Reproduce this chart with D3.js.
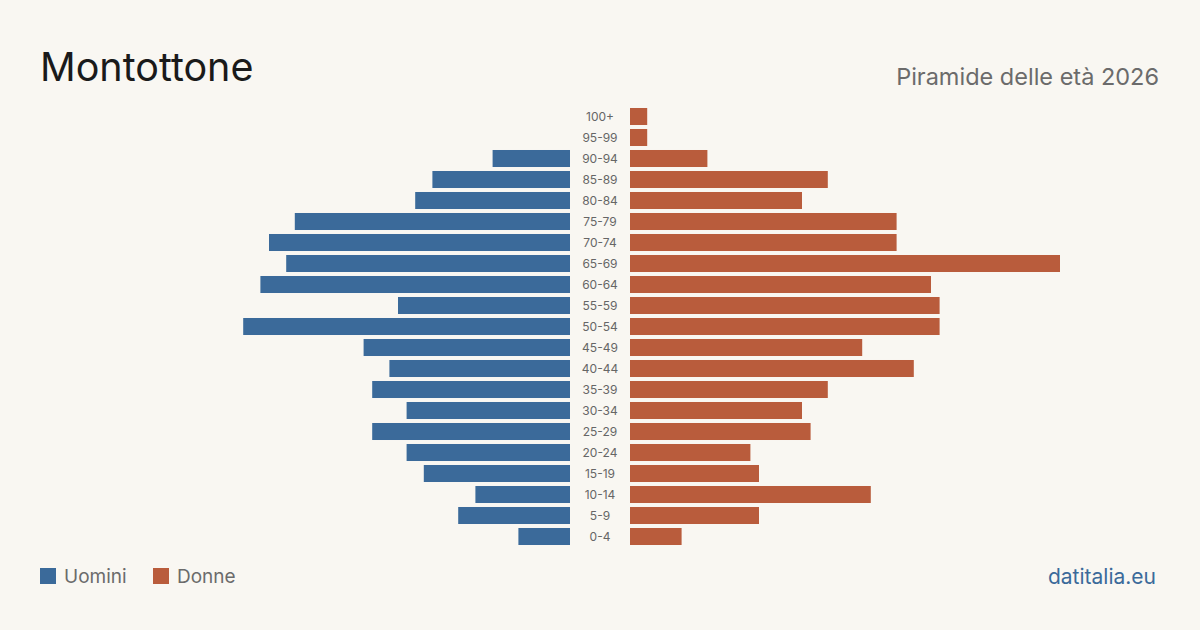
<!DOCTYPE html>
<html>
<head>
<meta charset="utf-8">
<script src="https://cdn.jsdelivr.net/npm/d3@7"></script>
<style>
  body { margin: 0; background: #f9f7f2; }
  svg { display: block; font-family: Inter, "Noto Sans", sans-serif; }
</style>
</head>
<body>
<div class="chart"></div>
<script>
const ageGroups = ["100+", "95-99", "90-94", "85-89", "80-84", "75-79", "70-74", "65-69", "60-64", "55-59",
    "50-54", "45-49", "40-44", "35-39", "30-34", "25-29", "20-24", "15-19", "10-14", "5-9", "0-4"]
const men = [0, 0, 9, 16, 18, 32, 35, 33, 36, 20, 38, 24, 21, 23, 19, 23, 19, 17, 11, 13, 6]
const women = [2, 2, 9, 23, 20, 31, 31, 50, 35, 36, 36, 27, 33, 23, 20, 21, 14, 15, 28, 15, 6]
const legendLabels = ["Uomini", "Donne"]

const width = 1200
const height = 630
const colors = { Uomini: "#3b6a9a", Donne: "#b95c3c" }

const svg = d3.select(".chart")
    .append("svg")
    .attr("width", width)
    .attr("height", height)

svg.append("rect").attr("width", width).attr("height", height).attr("fill", "#f9f7f2")

svg.append("text")
    .attr("x", 40).attr("y", 81)
    .attr("font-size", 39.5)
    .attr("fill", "#1a1a1a")
    .text("Montottone")

svg.append("text")
    .attr("x", 1159).attr("y", 85)
    .attr("text-anchor", "end")
    .attr("font-size", 23.5)
    .attr("fill", "#6b6b6b")
    .text("Piramide delle età 2026")

const y = d3.scaleBand()
    .domain(ageGroups)
    .range([106, 547])
    .paddingInner(0.19)
    .paddingOuter(0.095)

const xLeft = d3.scaleLinear().domain([0, 50]).range([570, 140])
const xRight = d3.scaleLinear().domain([0, 50]).range([630, 1060])

svg.append("g")
    .selectAll("rect")
    .data(ageGroups.map((a, i) => ({ age: a, value: men[i] })))
    .join("rect")
    .attr("x", d => xLeft(d.value))
    .attr("y", d => y(d.age))
    .attr("width", d => xLeft(0) - xLeft(d.value))
    .attr("height", y.bandwidth())
    .attr("fill", colors.Uomini)

svg.append("g")
    .selectAll("rect")
    .data(ageGroups.map((a, i) => ({ age: a, value: women[i] })))
    .join("rect")
    .attr("x", xRight(0))
    .attr("y", d => y(d.age))
    .attr("width", d => xRight(d.value) - xRight(0))
    .attr("height", y.bandwidth())
    .attr("fill", colors.Donne)

svg.append("g")
    .selectAll("text")
    .data(ageGroups)
    .join("text")
    .attr("x", 600)
    .attr("y", d => y(d) + y.bandwidth() / 2)
    .attr("dy", "0.35em")
    .attr("text-anchor", "middle")
    .attr("font-size", 12)
    .attr("fill", "#666")
    .text(d => d)

// legend
const legend = svg.append("g")
    .selectAll("g")
    .data(legendLabels)
    .join("g")
    .attr("transform", (d, i) => `translate(${40 + i * 113}, 568)`)
legend.append("rect")
    .attr("width", 16).attr("height", 16)
    .attr("fill", d => colors[d])
legend.append("text")
    .attr("x", 24).attr("y", 8)
    .attr("dy", "0.35em")
    .attr("font-size", 19)
    .attr("fill", "#6b6b6b")
    .text(d => d)

svg.append("text")
    .attr("x", 1156).attr("y", 584)
    .attr("text-anchor", "end")
    .attr("font-size", 21)
    .attr("fill", "#3b6a9a")
    .text("datitalia.eu")
</script>
</body>
</html>
